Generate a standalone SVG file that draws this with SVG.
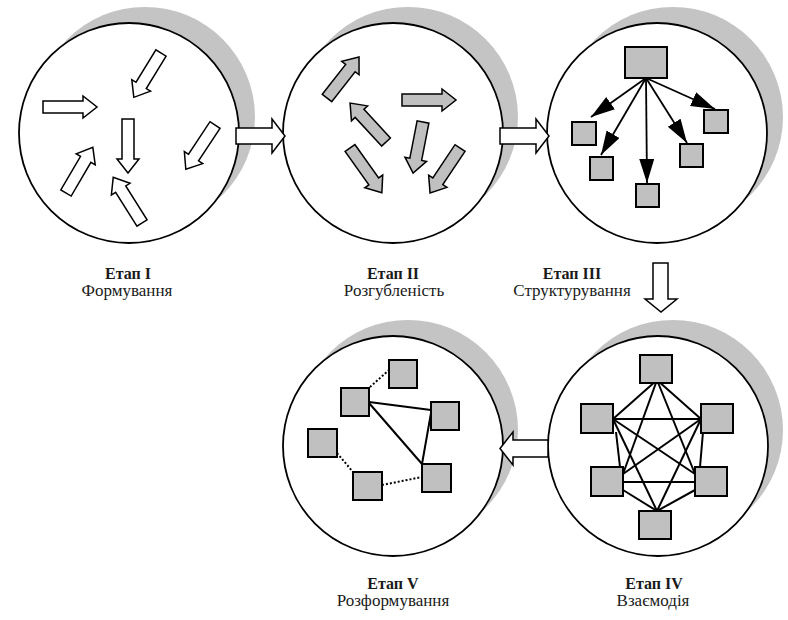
<svg xmlns="http://www.w3.org/2000/svg" width="788" height="620" viewBox="0 0 788 620">
<style>
.shadow{fill:#c4c4c4;stroke:none}
.stage{fill:#fff;stroke:#000;stroke-width:1.8}
.flow{fill:#fff;stroke:#000;stroke-width:1.5;stroke-linejoin:miter}
.wa{fill:#fff;stroke:#000;stroke-width:1.5}
.ga{fill:#c0c0c0;stroke:#000;stroke-width:1.5}
.box{fill:#c0c0c0;stroke:#000;stroke-width:2}
.ln{stroke:#000;stroke-width:2;fill:none}
.dot{stroke:#000;stroke-width:2;fill:none;stroke-dasharray:2,2}
.arr{stroke:#000;stroke-width:1.8;fill:none;marker-end:url(#head)}
.t1{font-family:"Liberation Serif","DejaVu Serif",serif;font-size:16px;font-weight:bold;fill:#1a1a1a;text-anchor:middle}
.t2{font-family:"Liberation Serif","DejaVu Serif",serif;font-size:17px;fill:#1a1a1a;text-anchor:middle}
</style>
<defs>
<marker id="head" markerUnits="userSpaceOnUse" markerWidth="26" markerHeight="16" refX="24" refY="7.5" orient="auto">
<path d="M0,0 L24,7.5 L0,15 z" fill="#000"/>
</marker>
</defs>

<g id="stage1">
<circle class="shadow" cx="145" cy="117" r="110"/>
<circle class="stage" cx="129" cy="133" r="110"/>
<polygon class="wa" transform="translate(43,107)" points="0,-6 40,-6 40,-11 54,0 40,11 40,6 0,6"/>
<polygon class="wa" transform="translate(161,53) rotate(121.5)" points="0,-6 38,-6 38,-11 52,0 38,11 38,6 0,6"/>
<polygon class="wa" transform="translate(128,119) rotate(90)" points="0,-6 40,-6 40,-11 54,0 40,11 40,6 0,6"/>
<polygon class="wa" transform="translate(215,125) rotate(123.4)" points="0,-6 39,-6 39,-11 53,0 39,11 39,6 0,6"/>
<polygon class="wa" transform="translate(66,193) rotate(-59.6)" points="0,-6 39,-6 39,-11 53,0 39,11 39,6 0,6"/>
<polygon class="wa" transform="translate(142,223) rotate(-122.2)" points="0,-6 40,-6 40,-11 54,0 40,11 40,6 0,6"/>
<text class="t1" x="128" y="279">Етап I</text>
<text class="t2" x="127" y="296">Формування</text>
</g>

<g id="stage2">
<circle class="shadow" cx="408" cy="117" r="110"/>
<circle class="stage" cx="393" cy="133" r="110"/>
<polygon class="ga" transform="translate(327,98) rotate(-52)" points="0,-6 38,-6 38,-11 52,0 38,11 38,6 0,6"/>
<polygon class="ga" transform="translate(402,100)" points="0,-6 40,-6 40,-11 54,0 40,11 40,6 0,6"/>
<polygon class="ga" transform="translate(386,142) rotate(-132.7)" points="0,-6 39,-6 39,-11 53,0 39,11 39,6 0,6"/>
<polygon class="ga" transform="translate(350,148) rotate(54.6)" points="0,-6 41,-6 41,-11 55,0 41,11 41,6 0,6"/>
<polygon class="ga" transform="translate(423,122) rotate(101)" points="0,-6 38,-6 38,-11 52,0 38,11 38,6 0,6"/>
<polygon class="ga" transform="translate(460,148) rotate(123.7)" points="0,-6 40,-6 40,-11 54,0 40,11 40,6 0,6"/>
<text class="t1" x="393" y="279">Етап II</text>
<text class="t2" x="394" y="296">Розгубленість</text>
</g>

<g id="stage3">
<circle class="shadow" cx="673" cy="117" r="110"/>
<circle class="stage" cx="657" cy="133" r="110"/>
<line class="arr" x1="646" y1="78" x2="591" y2="117"/>
<line class="arr" x1="646" y1="78" x2="601" y2="155"/>
<line class="arr" x1="646" y1="78" x2="647" y2="183"/>
<line class="arr" x1="646" y1="78" x2="687" y2="143"/>
<line class="arr" x1="646" y1="78" x2="715" y2="109"/>
<rect class="box" x="625" y="47" width="42" height="31"/>
<rect class="box" x="572" y="122" width="24" height="23"/>
<rect class="box" x="590" y="157" width="23" height="23"/>
<rect class="box" x="636" y="184" width="23" height="23"/>
<rect class="box" x="680" y="144" width="23" height="23"/>
<rect class="box" x="704" y="110" width="24" height="23"/>
<text class="t1" x="572" y="279">Етап III</text>
<text class="t2" x="572" y="296">Структурування</text>
</g>

<g id="stage4">
<circle class="shadow" cx="673" cy="430" r="110"/>
<circle class="stage" cx="658" cy="446" r="110"/>
<g class="edges">
<line class="ln" x1="657" y1="380" x2="613" y2="419"/>
<line class="ln" x1="657" y1="380" x2="701" y2="419"/>
<line class="ln" x1="657" y1="380" x2="623" y2="474"/>
<line class="ln" x1="657" y1="380" x2="695" y2="474"/>
<line class="ln" x1="613" y1="419" x2="701" y2="419"/>
<line class="ln" x1="613" y1="419" x2="695" y2="474"/>
<line class="ln" x1="613" y1="419" x2="657" y2="511"/>
<line class="ln" x1="616" y1="432" x2="620" y2="467"/>
<line class="ln" x1="701" y1="419" x2="623" y2="474"/>
<line class="ln" x1="701" y1="419" x2="657" y2="511"/>
<line class="ln" x1="703" y1="432" x2="700" y2="467"/>
<line class="ln" x1="623" y1="482" x2="695" y2="482"/>
<line class="ln" x1="623" y1="490" x2="657" y2="511"/>
<line class="ln" x1="695" y1="490" x2="657" y2="511"/>
</g>
<rect class="box" x="640" y="355" width="32" height="28"/>
<rect class="box" x="581" y="404" width="32" height="29"/>
<rect class="box" x="701" y="404" width="32" height="29"/>
<rect class="box" x="591" y="467" width="32" height="29"/>
<rect class="box" x="695" y="467" width="32" height="29"/>
<rect class="box" x="639" y="511" width="32" height="28"/>
<text class="t1" x="654" y="589">Етап IV</text>
<text class="t2" x="653" y="606">Взаємодія</text>
</g>

<g id="stage5">
<circle class="shadow" cx="408" cy="430" r="110"/>
<circle class="stage" cx="393" cy="446" r="110"/>
<line class="dot" x1="370" y1="387" x2="389" y2="370"/>
<line class="ln" x1="369" y1="402" x2="431" y2="410"/>
<line class="ln" x1="369" y1="403" x2="422" y2="464"/>
<line class="ln" x1="431" y1="413" x2="422" y2="464"/>
<line class="dot" x1="337" y1="453" x2="353" y2="472"/>
<line class="dot" x1="382" y1="485" x2="422" y2="477"/>
<rect class="box" x="389" y="360" width="28" height="28"/>
<rect class="box" x="341" y="388" width="28" height="28"/>
<rect class="box" x="431" y="402" width="28" height="28"/>
<rect class="box" x="308" y="429" width="29" height="28"/>
<rect class="box" x="353" y="472" width="29" height="28"/>
<rect class="box" x="422" y="464" width="29" height="28"/>
<text class="t1" x="393" y="589">Етап V</text>
<text class="t2" x="393" y="606">Розформування</text>
</g>

<g id="connectors">
<polygon class="flow" points="236,128 272,128 272,119 285,136 272,153 272,144 236,144"/>
<polygon class="flow" points="500,128 536,128 536,119 549,136 536,153 536,144 500,144"/>
<polygon class="flow" points="653,263 668,263 668,299 677,299 661,312 645,299 653,299"/>
<polygon class="flow" points="548,440 513,440 513,432 500,448.5 513,465 513,457 548,457"/>
</g>
</svg>
